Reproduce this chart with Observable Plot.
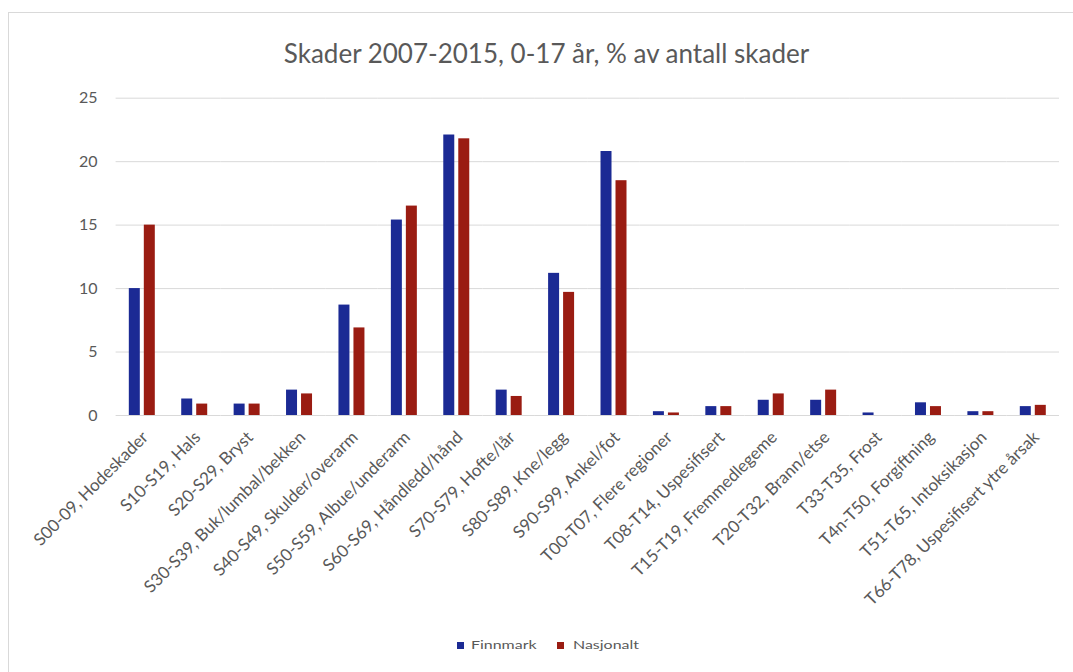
<!DOCTYPE html>
<html>
<head>
<meta charset="utf-8">
<script src="https://cdn.jsdelivr.net/npm/d3@7"></script>
<script src="https://cdn.jsdelivr.net/npm/@observablehq/plot@0.6"></script>
<style>
  body { margin: 0; background: #fff; font-family: Lato, "Open Sans", sans-serif; }
  #chart { position: relative; width: 1073px; height: 672px; overflow: hidden; }
  #frame { position: absolute; left: 8px; top: 12px; width: 1095px; height: 690px;
           border: 1px solid #d9d9d9; box-sizing: border-box; }
  #title { position: absolute; left: 8px; width: 1077px; top: 40px; text-align: center;
           font-size: 26px; line-height: 26px; color: #595959; white-space: nowrap; }
  #plot { position: absolute; left: 0; top: 0; }
  .key { position: absolute; font-size: 11px; line-height: 11px; color: #595959;
         transform: scaleX(1.45); transform-origin: 0 0; white-space: nowrap; }
  .swatch { position: absolute; width: 7px; height: 7px; }
</style>
</head>
<body>
<div id="chart">
  <div id="frame"></div>
  <div id="title"></div>
  <div id="plot"></div>
  <div id="legend"></div>
</div>
<script>
// Injury groups (ICD-10 chapters S/T) shown along the x axis
const categories = [
  "S00-09, Hodeskader",
  "S10-S19, Hals",
  "S20-S29, Bryst",
  "S30-S39, Buk/lumbal/bekken",
  "S40-S49, Skulder/overarm",
  "S50-S59, Albue/underarm",
  "S60-S69, Håndledd/hånd",
  "S70-S79, Hofte/lår",
  "S80-S89, Kne/legg",
  "S90-S99, Ankel/fot",
  "T00-T07, Flere regioner",
  "T08-T14, Uspesifisert",
  "T15-T19, Fremmedlegeme",
  "T20-T32, Brann/etse",
  "T33-T35, Frost",
  "T4n-T50, Forgiftning",
  "T51-T65, Intoksikasjon",
  "T66-T78, Uspesifisert ytre årsak"
];

// Share of all injuries (%), ages 0-17, 2007-2015
const finnmark  = [10.0, 1.3, 0.9, 2.0, 8.7, 15.4, 22.1, 2.0, 11.2, 20.8, 0.3, 0.7, 1.2, 1.2, 0.2, 1.0, 0.3, 0.7];
const nasjonalt = [15.0, 0.9, 0.9, 1.7, 6.9, 16.5, 21.8, 1.5, 9.7, 18.5, 0.2, 0.7, 1.7, 2.0, 0.0, 0.7, 0.3, 0.8];

const series = ["Finnmark", "Nasjonalt"];
const seriesColors = ["#1b2a94", "#9a1c12"];
const yTicks = [0, 5, 10, 15, 20, 25];
const titleText = "Skader 2007-2015, 0-17 år, % av antall skader";

const rows = categories.flatMap((c, i) => [
  {category: c, series: series[0], value: finnmark[i]},
  {category: c, series: series[1], value: nasjonalt[i]}
]);

const H = 620;
const chart = Plot.plot({
  width: 1073,
  height: H,
  marginLeft: 115.6,
  marginRight: 14,
  marginTop: 97.7,
  marginBottom: H - 415,
  style: {fontFamily: "Lato, 'Open Sans', sans-serif", fontSize: "15px", color: "#595959", background: "transparent"},
  fx: {domain: categories, padding: 0, round: false, label: null},
  x: {domain: series, paddingInner: 0.267, paddingOuter: 0.881, round: false, axis: null},
  y: {domain: [0, 25]},
  color: {domain: series, range: seriesColors},
  marks: [
    Plot.gridY(yTicks, {stroke: "#d9d9d9", strokeOpacity: 1, strokeWidth: 1}),
    Plot.axisY({ticks: yTicks, tickSize: 0, tickPadding: 18.6, fontSize: 16, label: null}),
    Plot.axisFx({anchor: "bottom", tickRotate: -45, tickSize: 0, tickPadding: 19, dx: 3, fontSize: 17, label: null}),
    Plot.barY(rows, {fx: "category", x: "series", y: "value", fill: "series"})
  ]
});
document.getElementById("plot").appendChild(chart);
document.getElementById("title").textContent = titleText;

// Legend below the plot
const legend = document.getElementById("legend");
const keyPos = [{sx: 457, tx: 470.5}, {sx: 557, tx: 573}];
series.forEach((s, i) => {
  const sw = document.createElement("div");
  sw.className = "swatch";
  sw.style.left = keyPos[i].sx + "px";
  sw.style.top = "641.5px";
  sw.style.background = seriesColors[i];
  legend.appendChild(sw);
  const t = document.createElement("div");
  t.className = "key";
  t.style.left = keyPos[i].tx + "px";
  t.style.top = "639px";
  t.textContent = s;
  legend.appendChild(t);
});
</script>
</body>
</html>
